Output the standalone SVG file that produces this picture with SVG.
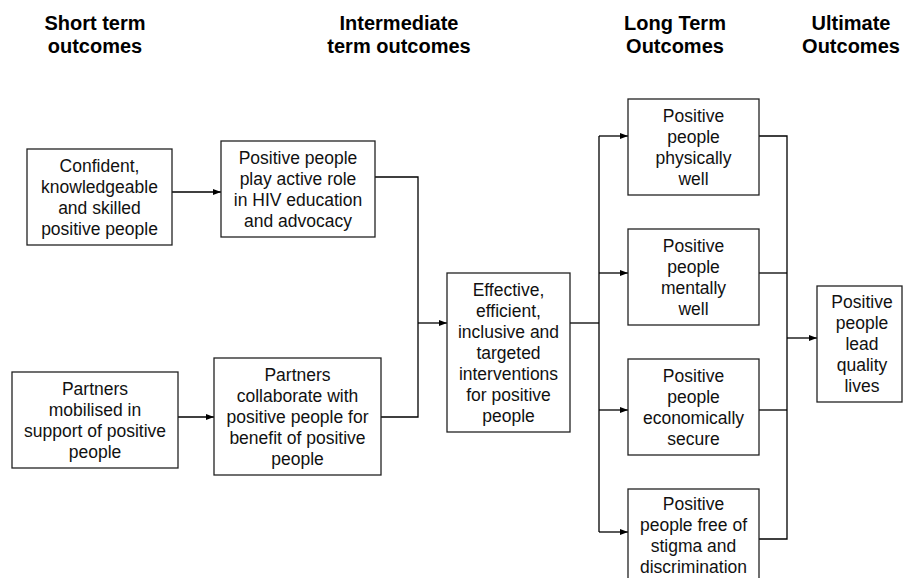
<svg xmlns="http://www.w3.org/2000/svg" width="903" height="578" viewBox="0 0 903 578">
<style>
.box{fill:#fff;stroke:#222;stroke-width:1.3}
.t{font-family:"Liberation Sans",Arial,sans-serif;font-size:17.5px;fill:#111;text-anchor:middle}
.h{font-family:"Liberation Sans",Arial,sans-serif;font-size:20px;font-weight:bold;fill:#000;text-anchor:middle}
.c{fill:none;stroke:#000;stroke-width:1.3}
</style>
<defs>
<marker id="ah" markerWidth="8" markerHeight="6" refX="8" refY="3" orient="auto" markerUnits="userSpaceOnUse">
<path d="M0,0 L8,3 L0,6 Z" fill="#000"/>
</marker>
</defs>
<rect width="903" height="578" fill="#fff"/>
<g id="headers">
<text class="h" x="95" y="30">Short term</text>
<text class="h" x="95" y="53">outcomes</text>
<text class="h" x="399" y="30">Intermediate</text>
<text class="h" x="399" y="53">term outcomes</text>
<text class="h" x="675" y="30">Long Term</text>
<text class="h" x="675" y="53">Outcomes</text>
<text class="h" x="851" y="30">Ultimate</text>
<text class="h" x="851" y="53">Outcomes</text>
</g>
<g id="connectors">
<path class="c" d="M172,192 H221" marker-end="url(#ah)"/>
<path class="c" d="M178,417 H214" marker-end="url(#ah)"/>
<path class="c" d="M375,177 H418 V417 H381"/>
<path class="c" d="M418,323 H447" marker-end="url(#ah)"/>
<path class="c" d="M570,323 H599"/>
<path class="c" d="M599,136 V532"/>
<path class="c" d="M599,136 H628" marker-end="url(#ah)"/>
<path class="c" d="M599,273 H628" marker-end="url(#ah)"/>
<path class="c" d="M599,410 H628" marker-end="url(#ah)"/>
<path class="c" d="M599,532 H628" marker-end="url(#ah)"/>
<path class="c" d="M759,136 H787 V539 H759"/>
<path class="c" d="M759,273 H787"/>
<path class="c" d="M759,410 H787"/>
<path class="c" d="M787,338 H817" marker-end="url(#ah)"/>
</g>
<g id="n1">
<rect class="box" x="27" y="149" width="145" height="96"/>
<text class="t" x="99.5" y="171.5">Confident,</text>
<text class="t" x="99.5" y="192.5">knowledgeable</text>
<text class="t" x="99.5" y="213.5">and skilled</text>
<text class="t" x="99.5" y="234.5">positive people</text>
</g>
<g id="n2">
<rect class="box" x="221" y="141" width="154" height="96"/>
<text class="t" x="298" y="163.5">Positive people</text>
<text class="t" x="298" y="184.5">play active role</text>
<text class="t" x="298" y="205.5">in HIV education</text>
<text class="t" x="298" y="226.5">and advocacy</text>
</g>
<g id="n3">
<rect class="box" x="12" y="372" width="166" height="96"/>
<text class="t" x="95" y="394.5">Partners</text>
<text class="t" x="95" y="415.5">mobilised in</text>
<text class="t" x="95" y="436.5">support of positive</text>
<text class="t" x="95" y="457.5">people</text>
</g>
<g id="n4">
<rect class="box" x="214" y="358" width="167" height="117"/>
<text class="t" x="297.5" y="380.5">Partners</text>
<text class="t" x="297.5" y="401.5">collaborate with</text>
<text class="t" x="297.5" y="422.5">positive people for</text>
<text class="t" x="297.5" y="443.5">benefit of positive</text>
<text class="t" x="297.5" y="464.5">people</text>
</g>
<g id="n5">
<rect class="box" x="447" y="273" width="123" height="159"/>
<text class="t" x="508.5" y="295.5">Effective,</text>
<text class="t" x="508.5" y="316.5">efficient,</text>
<text class="t" x="508.5" y="337.5">inclusive and</text>
<text class="t" x="508.5" y="358.5">targeted</text>
<text class="t" x="508.5" y="379.5">interventions</text>
<text class="t" x="508.5" y="400.5">for positive</text>
<text class="t" x="508.5" y="421.5">people</text>
</g>
<g id="n6">
<rect class="box" x="628" y="99" width="131" height="96"/>
<text class="t" x="693.5" y="121.5">Positive</text>
<text class="t" x="693.5" y="142.5">people</text>
<text class="t" x="693.5" y="163.5">physically</text>
<text class="t" x="693.5" y="184.5">well</text>
</g>
<g id="n7">
<rect class="box" x="628" y="229" width="131" height="96"/>
<text class="t" x="693.5" y="251.5">Positive</text>
<text class="t" x="693.5" y="272.5">people</text>
<text class="t" x="693.5" y="293.5">mentally</text>
<text class="t" x="693.5" y="314.5">well</text>
</g>
<g id="n8">
<rect class="box" x="628" y="359" width="131" height="96"/>
<text class="t" x="693.5" y="381.5">Positive</text>
<text class="t" x="693.5" y="402.5">people</text>
<text class="t" x="693.5" y="423.5">economically</text>
<text class="t" x="693.5" y="444.5">secure</text>
</g>
<g id="n9">
<rect class="box" x="628" y="489" width="131" height="96"/>
<text class="t" x="693.5" y="509.5">Positive</text>
<text class="t" x="693.5" y="530.5">people free of</text>
<text class="t" x="693.5" y="551.5">stigma and</text>
<text class="t" x="693.5" y="572.5">discrimination</text>
</g>
<g id="n10">
<rect class="box" x="817" y="286" width="85" height="116"/>
<text class="t" x="862" y="308">Positive</text>
<text class="t" x="862" y="329">people</text>
<text class="t" x="862" y="350">lead</text>
<text class="t" x="862" y="371">quality</text>
<text class="t" x="862" y="392">lives</text>
</g>
</svg>
